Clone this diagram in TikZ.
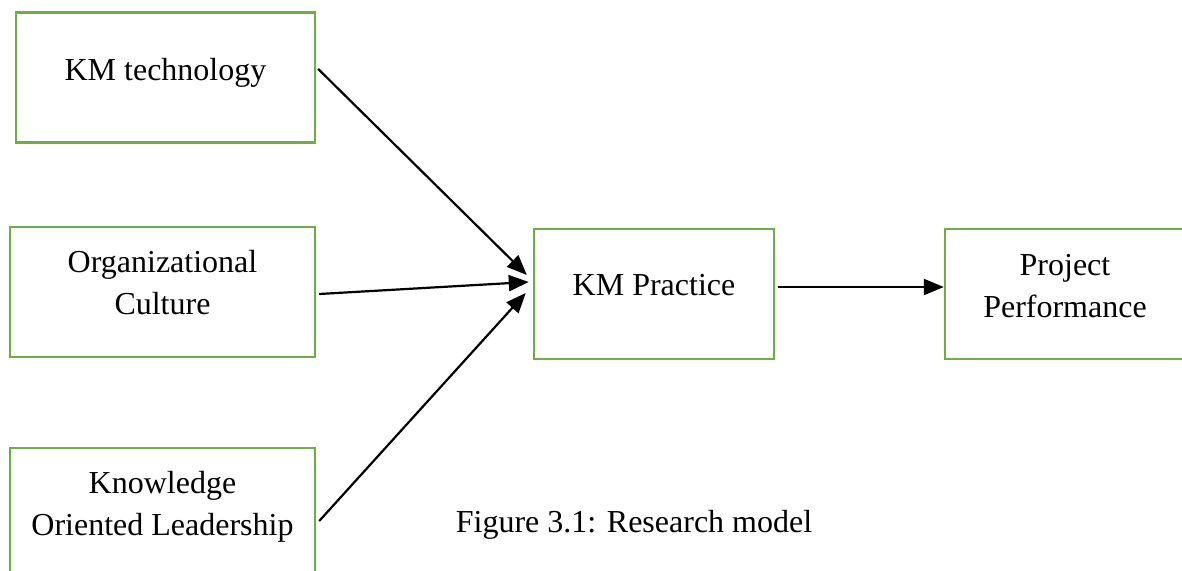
\documentclass[tikz,border=0pt]{standalone}
\usepackage{fontspec}
\setmainfont{Liberation Serif}
\usepackage{xcolor}
\usetikzlibrary{arrows.meta}
\definecolor{verde}{HTML}{70AD47}

\begin{document}
\begin{tikzpicture}[>={Triangle[length=10pt,width=8pt]}, x=0.5pt, y=-0.5pt,
  riquadro/.style={draw=verde, line width=1.2pt, minimum width=#1, minimum height=65pt, inner sep=0pt},
  testo/.style={font=\fontsize{16}{21}\selectfont, align=center, yshift=4.5pt},
  freccia/.style={->, line width=1.1pt}]
  % Cornice
  \useasboundingbox (0,0) rectangle (1182,571);
  \clip (0,0) rectangle (1182,571);

  % Riquadri
  \node[riquadro=149.5pt, label={[testo, yshift=-2pt]center:KM technology}] (kmtech) at (165.5,77.5) {};
  \node[riquadro=152.5pt, label={[testo]center:Organizational\\Culture}] (orgcult) at (162.5,292) {};
  \node[riquadro=152.5pt, label={[testo, yshift=-1.5pt]center:Knowledge\\Oriented Leadership}] (kol) at (162.5,513) {};
  \node[riquadro=120pt, label={[testo, yshift=0pt]center:KM Practice}] (kmprac) at (654,294) {};
  \node[riquadro=120pt, label={[testo, yshift=-0.5pt]center:Project\\Performance}] (projperf) at (1065,294) {};

  % Frecce
  \draw[freccia] ([xshift=1pt,yshift=4.25pt]kmtech.east) -- ([xshift=-3pt,yshift=9.5pt]kmprac.west);
  \draw[freccia] ([xshift=1.5pt,yshift=-1pt]orgcult.east) -- ([xshift=-2pt,yshift=6pt]kmprac.west);
  \draw[freccia] ([xshift=1.5pt,yshift=-4pt]kol.east) -- ([xshift=-3.5pt,yshift=0.5pt]kmprac.west);
  \draw[freccia] ([xshift=1.5pt,yshift=3.5pt]kmprac.east) -- ([yshift=3.5pt]projperf.west);

  % Didascalia
  \node[font=\fontsize{16}{21}\selectfont] (didascalia) at (634,525) {Figure 3.1: Research model};
\end{tikzpicture}
\end{document}
